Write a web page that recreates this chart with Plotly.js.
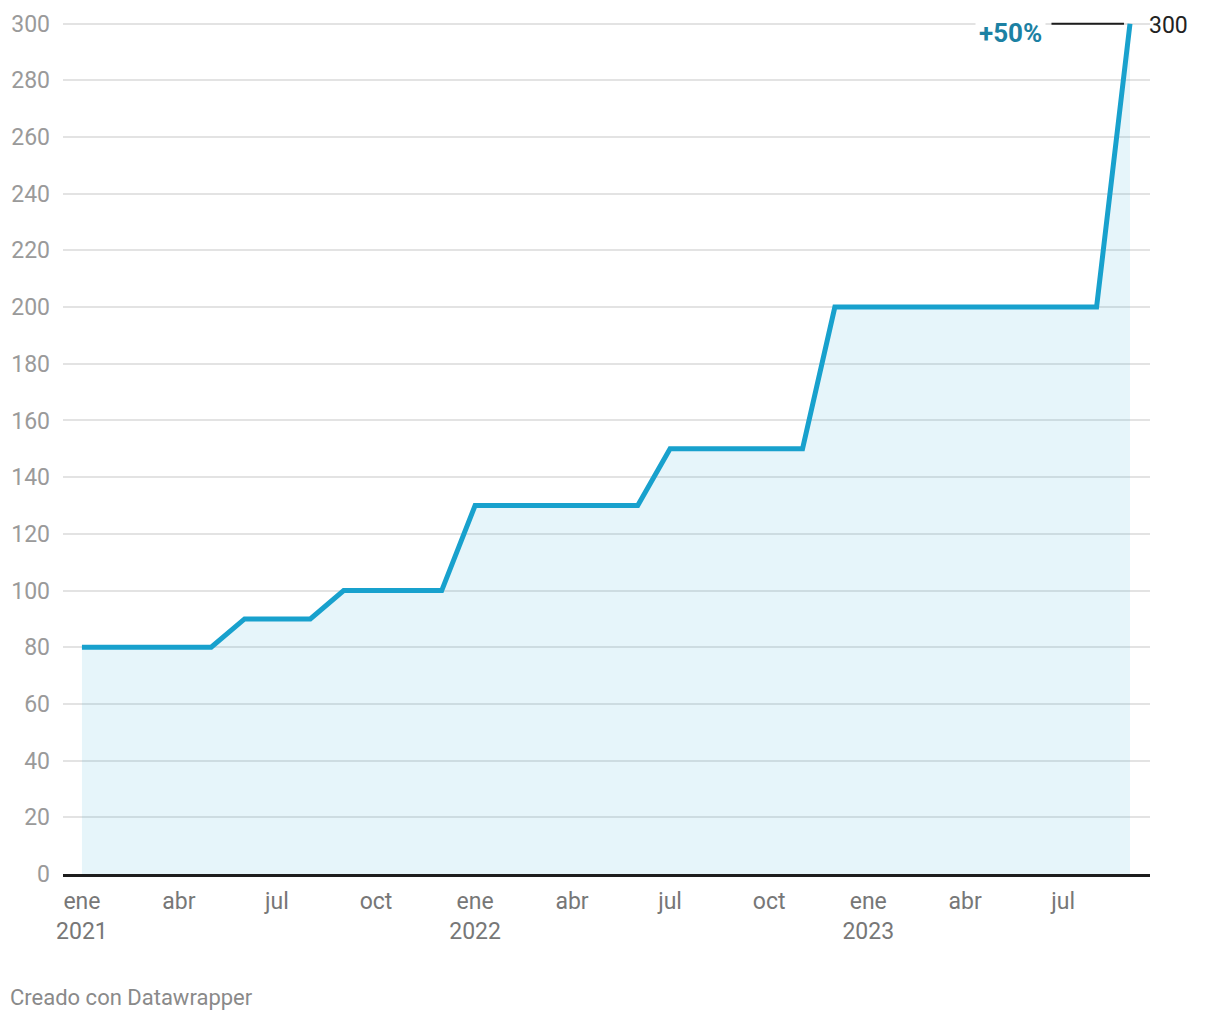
<!DOCTYPE html>
<html>
<head>
<meta charset="utf-8">
<script src="https://cdn.plot.ly/plotly-3.0.1.min.js"></script>
<style>
  html, body { margin: 0; padding: 0; background: #fff; }
  #chart { width: 1220px; height: 1020px; }
</style>
</head>
<body>
<div id="chart"></div>
<script>
// Monthly values, ene 2021 – sep 2023
const months = [
  '2021-01-01','2021-02-01','2021-03-01','2021-04-01','2021-05-01','2021-06-01',
  '2021-07-01','2021-08-01','2021-09-01','2021-10-01','2021-11-01','2021-12-01',
  '2022-01-01','2022-02-01','2022-03-01','2022-04-01','2022-05-01','2022-06-01',
  '2022-07-01','2022-08-01','2022-09-01','2022-10-01','2022-11-01','2022-12-01',
  '2023-01-01','2023-02-01','2023-03-01','2023-04-01','2023-05-01','2023-06-01',
  '2023-07-01','2023-08-01','2023-09-01'
];
const values = [
  80, 80, 80, 80, 80, 90,
  90, 90, 100, 100, 100, 100,
  130, 130, 130, 130, 130, 130,
  150, 150, 150, 150, 150, 200,
  200, 200, 200, 200, 200, 200,
  200, 200, 300
];
const xTickVals = ['2021-01-01','2021-04-01','2021-07-01','2021-10-01',
                   '2022-01-01','2022-04-01','2022-07-01','2022-10-01',
                   '2023-01-01','2023-04-01','2023-07-01'];
const xTickText = ['ene<br>2021','abr','jul','oct',
                   'ene<br>2022','abr','jul','oct',
                   'ene<br>2023','abr','jul'];
const yTickVals = [0,20,40,60,80,100,120,140,160,180,200,220,240,260,280,300];
const changeLabel = '+50%';
const footerText = 'Creado con Datawrapper';

const lastX = months[months.length - 1];
const lastY = values[values.length - 1];

const FONT = 'Roboto, "Noto Sans", sans-serif';
const W = 1220, H = 1020;
const M = { l: 63, r: 70, t: 18, b: 146 };
const plotW = W - M.l - M.r;

const trace = {
  type: 'scatter',
  mode: 'lines',
  x: months,
  y: values,
  line: { color: '#18a1cd', width: 5, shape: 'linear' },
  fill: 'tozeroy',
  fillcolor: 'rgba(24,161,205,0.11)',
  hoverinfo: 'skip'
};

const layout = {
  width: W, height: H,
  margin: M,
  paper_bgcolor: '#ffffff',
  plot_bgcolor: '#ffffff',
  showlegend: false,
  font: { family: FONT, size: 23, color: '#333' },
  xaxis: {
    type: 'date',
    range: ['2020-12-14 10:00', '2023-09-19 14:00'],
    tickmode: 'array',
    tickvals: xTickVals,
    ticktext: xTickText,
    showgrid: false,
    zeroline: false,
    showline: true,
    linecolor: '#1d1d1d',
    linewidth: 3,
    ticks: '',
    ticklabelstandoff: 4,
    tickfont: { family: FONT, size: 23, color: '#777777' },
    fixedrange: true
  },
  yaxis: {
    range: [0, 302],
    tickmode: 'array',
    tickvals: yTickVals,
    showgrid: true,
    gridcolor: '#e3e3e3',
    gridwidth: 2,
    zeroline: false,
    showline: false,
    ticks: '',
    ticklabelstandoff: 12,
    tickfont: { family: FONT, size: 23, color: '#9a9a9a' },
    fixedrange: true
  },
  annotations: [
    {
      x: lastX, y: lastY, xref: 'x', yref: 'y',
      text: '', showarrow: true, arrowhead: 0, arrowwidth: 2, arrowcolor: '#1d1d1d',
      ax: -80, ay: 0, standoff: 6
    },
    {
      x: lastX, y: lastY, xref: 'x', yref: 'y',
      text: '<b>' + changeLabel + '</b>', showarrow: false,
      xanchor: 'center', yanchor: 'middle', xshift: -119, yshift: -9,
      bgcolor: '#ffffff', borderpad: 3,
      font: { family: FONT, size: 26, color: '#1c81a3' }
    },
    {
      x: lastX, y: lastY, xref: 'x', yref: 'y',
      text: String(lastY), showarrow: false,
      xanchor: 'left', yanchor: 'middle', xshift: 17, yshift: -2,
      font: { family: FONT, size: 23, color: '#222222' }
    },
    {
      xref: 'paper', yref: 'paper',
      x: (8 - M.l) / plotW, y: -(997 - (H - M.b)) / (H - M.t - M.b),
      xanchor: 'left', yanchor: 'middle',
      text: footerText, showarrow: false,
      font: { family: FONT, size: 22, color: '#8a8a8a' }
    }
  ]
};

Plotly.newPlot('chart', [trace], layout, { displayModeBar: false, staticPlot: true });
</script>
</body>
</html>
